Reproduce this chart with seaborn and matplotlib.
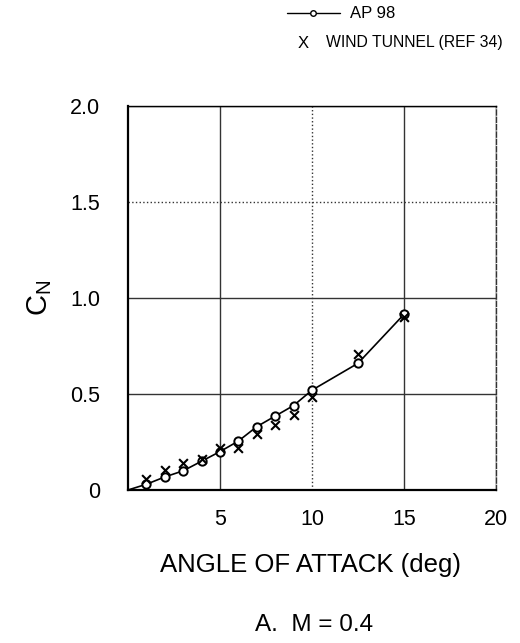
import matplotlib
matplotlib.use("Agg")
import matplotlib.pyplot as plt
import seaborn as sns
import pandas as pd
from matplotlib.lines import Line2D

# ---- data ----
ap98_alpha = [0, 1, 2, 3, 4, 5, 6, 7, 8, 9, 10, 12.5, 15]
ap98_cn = [0.0, 0.03, 0.068, 0.10, 0.15, 0.20, 0.255, 0.33, 0.385, 0.44, 0.52, 0.66, 0.915]
wt_alpha = [1, 2, 3, 4, 5, 6, 7, 8, 9, 10, 12.5, 15]
wt_cn = [0.057, 0.104, 0.14, 0.16, 0.22, 0.22, 0.29, 0.34, 0.39, 0.485, 0.71, 0.90]
x_ticks = [5, 10, 15, 20]
y_ticks = [0, 0.5, 1.0, 1.5, 2.0]
y_tick_labels = ["0", "0.5", "1.0", "1.5", "2.0"]
legend_labels = ["AP 98", "WIND TUNNEL (REF 34)"]

sns.set_theme(style="white")
plt.rcParams["font.family"] = ["Liberation Sans", "DejaVu Sans"]
plt.rcParams["mathtext.fontset"] = "custom"
plt.rcParams["mathtext.rm"] = "Liberation Sans"

fig = plt.figure(figsize=(5.2, 6.43), dpi=100)
ax = fig.add_axes([128 / 520, 153 / 643, 368 / 520, 384 / 643])

df_ap = pd.DataFrame({"alpha": ap98_alpha, "cn": ap98_cn})
df_wt = pd.DataFrame({"alpha": wt_alpha, "cn": wt_cn})

sns.lineplot(data=df_ap, x="alpha", y="cn", ax=ax, color="black", linewidth=1.2,
             marker="o", markersize=6, markerfacecolor="white",
             markeredgecolor="black", markeredgewidth=1.4,
             markevery=list(range(1, len(ap98_alpha))), zorder=3)
sns.scatterplot(data=df_wt, x="alpha", y="cn", ax=ax, marker="x", color="black",
                s=40, linewidth=1.5, zorder=4)

ax.set_xlim(0, 20)
ax.set_ylim(0, 2.0)
ax.set_xticks(x_ticks)
ax.set_yticks(y_ticks)
ax.set_yticklabels(y_tick_labels)
ax.tick_params(axis="x", length=0, pad=14, labelsize=15.5, colors="black")
ax.tick_params(axis="y", length=18, width=1.0, direction="out", pad=2,
               labelsize=15.5, colors="black")
ax.yaxis.get_major_ticks()[0].tick1line.set_visible(False)

ax.grid(True, color="#333333", linewidth=1.0)
xl = ax.xaxis.get_gridlines()
yl = ax.yaxis.get_gridlines()
styles_x = ["-", ":", "-", "-"]
for g, s in zip(xl, styles_x):
    g.set_linestyle(s)
styles_y = ["-", "-", "-", ":", "-"]
for g, s in zip(yl, styles_y):
    g.set_linestyle(s)
ax.set_axisbelow(True)

for side in ["left", "bottom"]:
    ax.spines[side].set_color("black")
    ax.spines[side].set_linewidth(1.6)
ax.spines["top"].set_color("black")
ax.spines["top"].set_linewidth(1.0)
ax.spines["right"].set_color("#333333")
ax.spines["right"].set_linewidth(1.0)
ax.spines["right"].set_linestyle("--")

ax.set_xlabel("")
ax.set_ylabel("")
fig.text(40 / 520, 1 - 298 / 643, r"C$_\mathregular{N}$", rotation=90,
         fontsize=21, ha="center", va="center", color="black")
fig.text(311 / 520, 1 - 565 / 643, "ANGLE OF ATTACK (deg)", fontsize=18.5,
         ha="center", va="center", color="black")
fig.text(314 / 520, 1 - 625 / 643, "A.  M = 0.4", fontsize=17.5,
         ha="center", va="center", color="black")

# ---- legend (drawn in figure coordinates) ----
fig.add_artist(Line2D([287 / 520, 340 / 520], [1 - 13 / 643, 1 - 13 / 643],
                      transform=fig.transFigure, color="black", linewidth=1.0))
fig.add_artist(Line2D([313 / 520], [1 - 13 / 643], transform=fig.transFigure,
                      marker="o", markersize=4, markerfacecolor="white",
                      markeredgecolor="black", markeredgewidth=1.0, linestyle="none"))
fig.text(350 / 520, 1 - 13 / 643, legend_labels[0], fontsize=12,
         ha="left", va="center", color="black")
fig.text(303 / 520, 1 - 43 / 643, "X", fontsize=12,
         ha="center", va="center", color="black")
fig.text(326 / 520, 1 - 43 / 643, legend_labels[1], fontsize=11.3,
         ha="left", va="center", color="black")

fig.savefig("out.png", dpi=100)
